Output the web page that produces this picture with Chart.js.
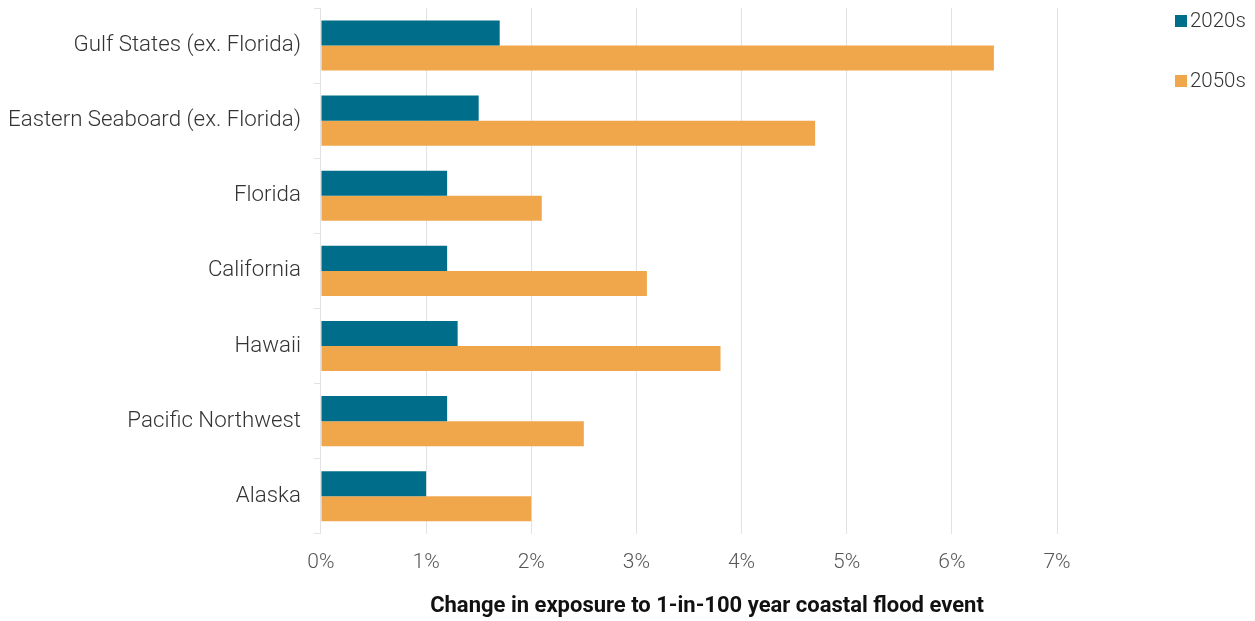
<!DOCTYPE html>
<html>
<head>
<meta charset="utf-8">
<script src="https://cdn.jsdelivr.net/npm/chart.js@4"></script>
<style>
  html, body { margin: 0; padding: 0; background: #fff; }
  #wrap { width: 1255px; height: 621px; position: relative; }
</style>
</head>
<body>
<div id="wrap"><canvas id="floodChart"></canvas></div>
<script>
// regions, top to bottom
const regions = [
  "Gulf States (ex. Florida)",
  "Eastern Seaboard (ex. Florida)",
  "Florida",
  "California",
  "Hawaii",
  "Pacific Northwest",
  "Alaska"
];
// change in exposure, %
const exposure2020s = [1.7, 1.5, 1.2, 1.2, 1.3, 1.2, 1.0];
const exposure2050s = [6.4, 4.7, 2.1, 3.1, 3.8, 2.5, 2.0];
const seriesNames = ["2020s", "2050s"];
const axisTitle = "Change in exposure to 1-in-100 year coastal flood event";

const TEAL = "#006e8a";
const ORANGE = "#f0a74c";
const GRID = "#e2e2e2";
const FONT = "Roboto, 'Noto Sans', sans-serif";

// legend in the top right corner + the x axis title (sits a bit right of centre)
const extras = {
  id: "extras",
  afterDraw(chart) {
    const c = chart.ctx;
    c.save();
    c.font = "300 20.5px " + FONT;
    c.textBaseline = "middle";
    c.textAlign = "left";
    chart.data.datasets.forEach((ds, i) => {
      const y = 21 + i * 60;
      c.fillStyle = ds.backgroundColor;
      c.fillRect(1175, y - 6, 12, 12);
      c.fillStyle = "#333";
      c.fillText(ds.label, 1190, y + 1);
    });
    c.font = "bold 22px " + FONT;
    c.fillStyle = "#111";
    c.textAlign = "center";
    c.fillText(axisTitle, 707, 606);
    c.restore();
  }
};

const ctx = document.getElementById("floodChart").getContext("2d");

new Chart(ctx, {
  type: "bar",
  data: {
    labels: regions,
    datasets: [
      {
        label: seriesNames[0],
        data: exposure2020s,
        backgroundColor: TEAL,
        categoryPercentage: 0.667,
        barPercentage: 1.0
      },
      {
        label: seriesNames[1],
        data: exposure2050s,
        backgroundColor: ORANGE,
        categoryPercentage: 0.667,
        barPercentage: 1.0
      }
    ]
  },
  options: {
    indexAxis: "y",
    responsive: true,
    maintainAspectRatio: false,
    animation: false,
    layout: { padding: { top: 8, right: 198, left: -5, bottom: 30 } },
    plugins: {
      legend: { display: false },
      tooltip: { enabled: false }
    },
    scales: {
      x: {
        min: 0,
        max: 7,
        ticks: {
          stepSize: 1,
          padding: 16,
          color: "#555",
          font: { family: FONT, size: 21, weight: 300 },
          callback: v => v + "%"
        },
        grid: { color: GRID, drawTicks: false },
        border: { display: false }
      },
      y: {
        offset: true,
        // labels sit mid-category, so they need no extra room above/below
        afterFit: s => { s.paddingTop = 0; s.paddingBottom = 0; },
        ticks: {
          padding: 13,
          color: "#333",
          font: { family: FONT, size: 22.3, weight: 300, lineHeight: 0.01 }
        },
        grid: {
          offset: true,
          drawOnChartArea: false,
          tickLength: 7,
          color: GRID
        },
        border: { display: true, color: GRID }
      }
    }
  },
  plugins: [extras]
});
</script>
</body>
</html>
